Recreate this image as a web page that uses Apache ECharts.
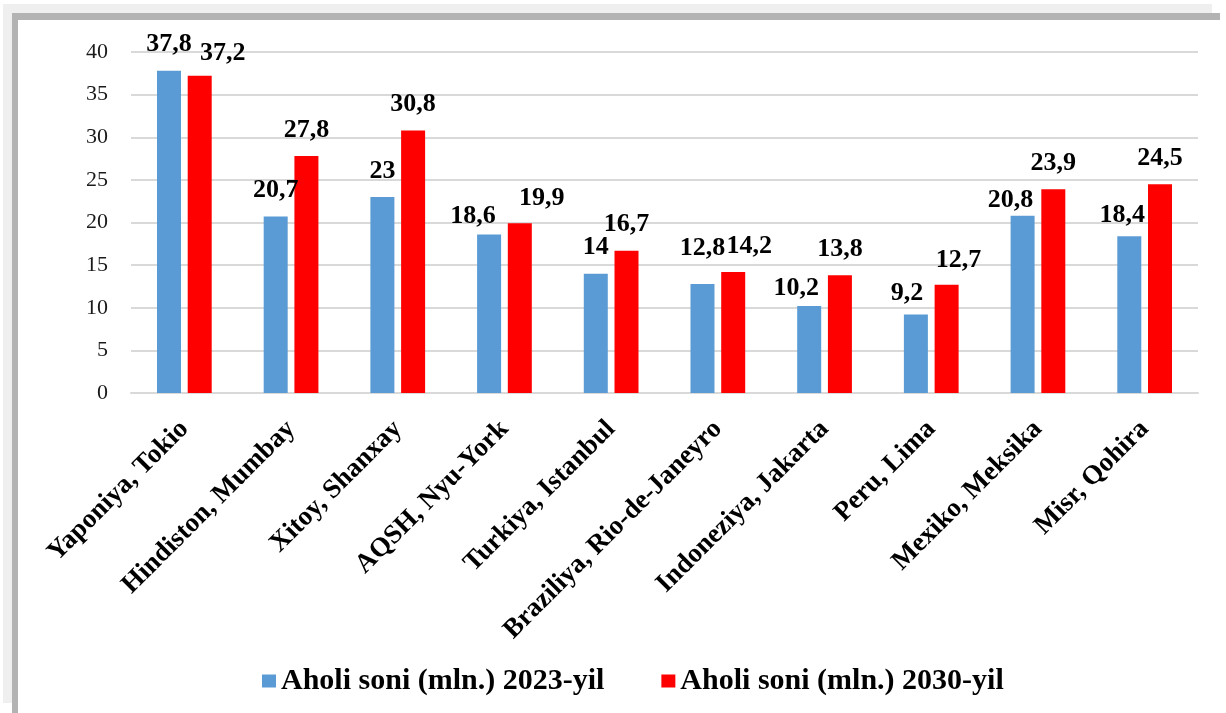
<!DOCTYPE html>
<html>
<head>
<meta charset="utf-8">
<script src="https://cdn.jsdelivr.net/npm/echarts@6/dist/echarts.min.js"></script>
<style>
  html, body { margin: 0; padding: 0; background: #ffffff; }
  body { width: 1226px; height: 713px; position: relative; overflow: hidden; }
  #fa { position: absolute; left: 3px; top: 4px; width: 1209px; height: 699px; background: #efefef; }
  #fb { position: absolute; left: 12px; top: 13px; width: 1208px; height: 700px; background: #b3b3b3; }
  #fc { position: absolute; left: 18px; top: 20px; width: 1208px; height: 693px; background: #ffffff; }
  #chart { position: absolute; left: 0; top: 0; width: 1226px; height: 713px; }
</style>
</head>
<body>
<div id="fa"></div>
<div id="fb"></div>
<div id="fc"></div>
<div id="chart"></div>
<script>
// ---- data ----
const categories = [
  'Yaponiya, Tokio', 'Hindiston, Mumbay', 'Xitoy, Shanxay', 'AQSH, Nyu-York',
  'Turkiya, Istanbul', 'Braziliya, Rio-de-Janeyro', 'Indoneziya, Jakarta',
  'Peru, Lima', 'Mexiko, Meksika', 'Misr, Qohira'
];
const seriesNames = ['Aholi soni (mln.) 2023-yil', 'Aholi soni (mln.) 2030-yil'];
const values2023 = [37.8, 20.7, 23, 18.6, 14, 12.8, 10.2, 9.2, 20.8, 18.4];
const values2030 = [37.2, 27.8, 30.8, 19.9, 16.7, 14.2, 13.8, 12.7, 23.9, 24.5];
const yTicks = { min: 0, max: 40, interval: 5 };

// manual label nudges (as in the source chart), [dx, dy] in px
const labelShift2023 = [[0,0],[0,0],[0,0],[-16,8],[0,0],[0,-10],[-13,8],[-9,5],[-12,11],[-7,5]];
const labelShift2030 = [[23,3],[0,0],[0,0],[22,1],[0,0],[16,0],[0,0],[12,2],[0,0],[0,0]];

const serif = '"Liberation Serif", "Times New Roman", serif';
const fmt = p => String(p.value).replace('.', ',');

function buildData(vals, shifts) {
  return vals.map((v, i) => ({ value: v, label: { offset: shifts[i] } }));
}

const chart = echarts.init(document.getElementById('chart'), null, { renderer: 'canvas' });
const labelStyle = {
  show: true, position: 'top', distance: 13, formatter: fmt,
  fontFamily: serif, fontWeight: 'bold', fontSize: 26, color: '#000'
};
chart.setOption({
  animation: false,
  backgroundColor: 'transparent',
  grid: { left: 131, right: 28, top: 52, bottom: 320, containLabel: false },
  legend: {
    left: 262, top: 666, padding: 0,
    itemWidth: 14, itemHeight: 13, itemGap: 57,
    icon: 'rect',
    textStyle: { fontFamily: serif, fontWeight: 'bold', fontSize: 30, color: '#000' },
    data: seriesNames
  },
  xAxis: {
    type: 'category', data: categories,
    axisLine: { lineStyle: { color: '#d9d9d9', width: 2 } },
    axisTick: { show: false },
    axisLabel: {
      rotate: 45, margin: 32, interval: 0,
      fontFamily: serif, fontWeight: 'bold', fontSize: 27, color: '#000'
    }
  },
  yAxis: {
    type: 'value', min: yTicks.min, max: yTicks.max, interval: yTicks.interval,
    axisLine: { show: false }, axisTick: { show: false },
    splitLine: { lineStyle: { color: '#d9d9d9', width: 2 } },
    axisLabel: { margin: 23, fontFamily: serif, fontSize: 22, color: '#1a1a1a' }
  },
  series: [
    {
      name: seriesNames[0], type: 'bar', barWidth: 24, barGap: '28%',
      itemStyle: { color: '#5b9bd5' },
      label: labelStyle,
      data: buildData(values2023, labelShift2023)
    },
    {
      name: seriesNames[1], type: 'bar', barWidth: 24, barGap: '28%',
      itemStyle: { color: '#ff0000' },
      label: labelStyle,
      data: buildData(values2030, labelShift2030)
    }
  ]
});
</script>
</body>
</html>
